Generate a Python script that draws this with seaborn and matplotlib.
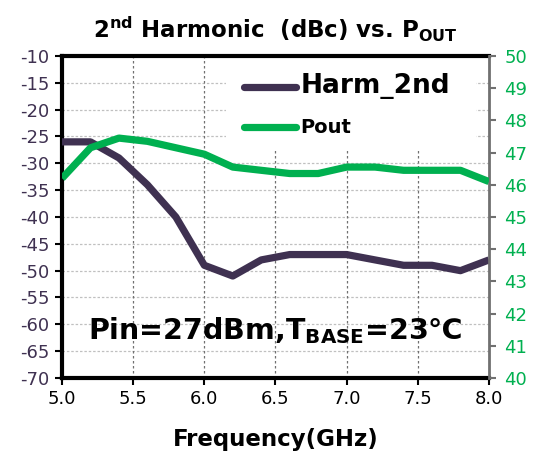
import matplotlib
matplotlib.use("Agg")
import matplotlib.pyplot as plt
from matplotlib.patches import Rectangle
import seaborn as sns
import pandas as pd

freq = [5.0, 5.2, 5.4, 5.6, 5.8, 6.0, 6.2, 6.4, 6.6, 6.8, 7.0, 7.2, 7.4, 7.6, 7.8, 8.0]
harm_2nd = [-26, -26, -29, -34, -40, -49, -51, -48, -47, -47, -47, -48, -49, -49, -50, -48]
pout = [46.2, 47.15, 47.45, 47.35, 47.15, 46.95, 46.55, 46.45, 46.35, 46.35, 46.55, 46.55, 46.45, 46.45, 46.45, 46.1]
xticks = [5.0, 5.5, 6.0, 6.5, 7.0, 7.5, 8.0]
left_ticks = list(range(-70, -9, 5))
right_ticks = list(range(40, 51, 1))

PURPLE = "#3F3151"
GREEN = "#00B050"

sns.set_theme(style="white")
plt.rcParams["font.family"] = ["DejaVu Sans"]
plt.rcParams["mathtext.default"] = "bf"
plt.rcParams["text.color"] = "black"

df = pd.DataFrame({"freq": freq, "harm": harm_2nd, "pout": pout})

fig = plt.figure(figsize=(5.37, 4.59), dpi=100)
ax = fig.add_axes([0.1155, 0.1765, 0.795, 0.7015])
ax2 = ax.twinx()

sns.lineplot(data=df, x="freq", y="harm", ax=ax, color=PURPLE, linewidth=5.2,
             solid_joinstyle="round", solid_capstyle="butt", legend=False, zorder=3)
sns.lineplot(data=df, x="freq", y="pout", ax=ax2, color=GREEN, linewidth=5.2,
             solid_joinstyle="round", solid_capstyle="butt", legend=False, zorder=3)

ax.set_xlim(5.0, 8.0)
ax.set_ylim(-70, -10)
ax2.set_ylim(40, 50)
ax.set_xticks(xticks)
ax.set_xticklabels([f"{v:.1f}" for v in xticks], fontsize=13, color="black")
ax.set_yticks(left_ticks)
ax.set_yticklabels([str(v) for v in left_ticks], fontsize=13, color=PURPLE)
ax2.set_yticks(right_ticks)
ax2.set_yticklabels([str(v) for v in right_ticks], fontsize=13, color=GREEN)

ax.set_xlabel("Frequency(GHz)", fontsize=16.5, fontweight="bold", labelpad=14,
              color="black")
ax.set_ylabel("")
ax2.set_ylabel("")

# grid
for y in left_ticks[1:-1]:
    ax.axhline(y, color="#c0c0c0", linestyle=(0, (2, 1.5)), linewidth=0.9, zorder=0)
for x in xticks[1:-1]:
    ax.axvline(x, color="#707070", linestyle=(0, (2, 2)), linewidth=0.9, zorder=0)
# white legend area hiding the grid
ax.add_patch(Rectangle((0.384, 0.708), 0.586, 0.292, transform=ax.transAxes,
                       facecolor="white", edgecolor="none", zorder=1))

# spines
for s in ["left", "bottom", "top"]:
    ax.spines[s].set_color("black")
    ax.spines[s].set_linewidth(3)
ax.spines["right"].set_visible(False)
for s in ["left", "bottom", "top"]:
    ax2.spines[s].set_visible(False)
ax2.spines["right"].set_color("#707070")
ax2.spines["right"].set_linewidth(2)

ax.tick_params(axis="both", which="major", direction="out", length=5, width=1.5,
               color="black", pad=4, left=True, bottom=True)
ax2.tick_params(axis="y", direction="out", length=5, width=1.5, color="#707070",
                pad=6, right=True)

ax.set_title(r"2$^{nd}$ Harmonic  (dBc) vs. P$_{OUT}$", fontsize=16.5,
             fontweight="bold", pad=13, color="black")

ax.text(0.5, 0.147, r"Pin=27dBm,T$_{BASE}$=23℃", transform=ax.transAxes,
        ha="center", va="center", fontsize=20.5, fontweight="bold", zorder=5,
        color="black")

h1 = ax.get_lines()[0]
h2 = ax2.get_lines()[0]
leg = ax2.legend([h1, h2], ["Harm_2nd", "Pout"], loc="upper left",
                 bbox_to_anchor=(0.387, 1.0), frameon=False,
                 handlelength=3.1, handletextpad=0.3, borderpad=0.5,
                 labelspacing=1.15,
                 prop={"weight": "bold", "size": 12})
leg.get_texts()[0].set_fontsize(19)
leg.get_texts()[1].set_fontsize(14)
for t in leg.get_texts():
    t.set_color("black")
leg.set_zorder(10)
for lh in leg.legend_handles:
    lh.set_linewidth(5.2)
    lh.set_solid_capstyle("round")

fig.savefig("out.png", dpi=100)
